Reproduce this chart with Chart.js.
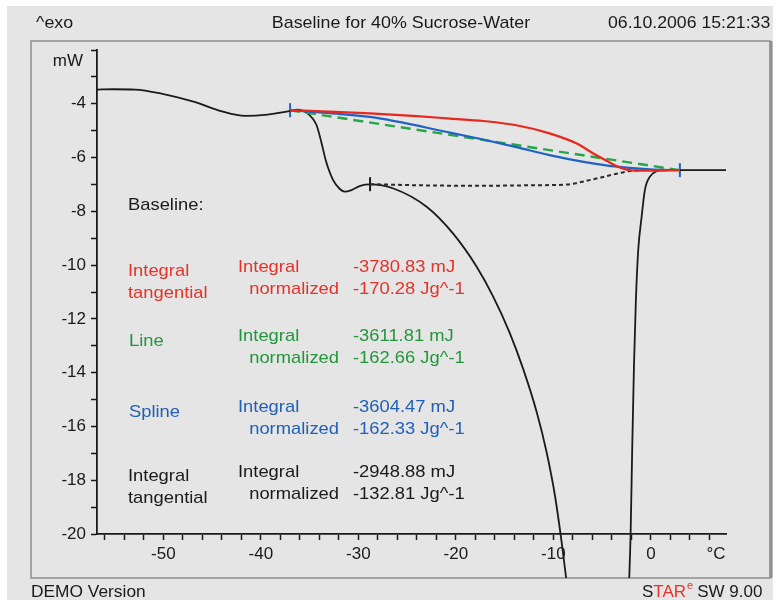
<!DOCTYPE html>
<html>
<head>
<meta charset="utf-8">
<script src="https://cdn.jsdelivr.net/npm/chart.js@4.4.1/dist/chart.umd.min.js"></script>
<style>
  html, body { margin: 0; padding: 0; background: #fff; }
  #chart { display: block; }
</style>
</head>
<body>
<canvas id="chart" width="777" height="600"></canvas>
<script>
// measured curve (temperature in °C, heat flow in mW)
const curveTemp = [-56.8, -55, -52.9, -50.2, -46.8, -44.0, -41.6, -39.3, -37.2, -36.3, -35.0, -34.3, -33.8, -33.3, -32.6, -31.9, -31.4, -30.7, -29.8, -28.8, -26.4, -23.0, -20.3, -17.9, -16.2, -14.5, -13.1, -11.7, -10.7, -9.85, -9.1, -8.5, -7.5, -5.5, -3.0, -2.23, -2.08, -1.92, -1.74, -1.54, -1.30, -0.95, -0.62, -0.10, 0.58, 1.26, 7.7];
const curveMW = [-3.47, -3.46, -3.47, -3.62, -3.93, -4.28, -4.45, -4.40, -4.28, -4.22, -4.42, -4.78, -5.42, -6.16, -6.83, -7.17, -7.27, -7.21, -7.05, -7.00, -7.15, -7.83, -8.82, -10.04, -11.15, -12.50, -13.86, -15.48, -16.95, -18.55, -20.45, -22.2, -25.5, -32, -28, -21.7, -19.97, -16.88, -13.78, -11.30, -9.44, -8.20, -7.21, -6.71, -6.51, -6.47, -6.47];

// baselines
const redTemp = [-37.0, -33, -28.8, -24, -20.6, -17.2, -13.8, -10.4, -7.6, -5.9, -4.5, -3.5, -2.5, -1.5, -0.1, 2.97];
const redMW = [-4.24, -4.29, -4.36, -4.46, -4.55, -4.64, -4.80, -5.10, -5.48, -5.85, -6.13, -6.32, -6.45, -6.49, -6.49, -6.47];

const greenTemp = [-37.0, 2.97];
const greenMW = [-4.24, -6.47];

const blueTemp = [-37.0, -33, -28.8, -20.6, -17.2, -13.8, -10.4, -6.9, -3.5, -0.1, 2.97];
const blueMW = [-4.24, -4.35, -4.49, -5.07, -5.33, -5.61, -5.91, -6.16, -6.34, -6.44, -6.47];

const blackTemp = [-28.8, -24, -18, -12, -8.6, -6.3, -4.2, -2.15, -1.0];
const blackMW = [-6.99, -7.03, -7.05, -7.03, -7.0, -6.84, -6.66, -6.50, -6.47];

// evaluation limits
const blueLimitTemp = [-37.0, 2.97];
const blueLimitMW = [-4.24, -6.47];
const blackLimitTemp = [-28.8];
const blackLimitMW = [-6.99];

const xTickValues = [-56, -54, -52, -50, -48, -46, -44, -42, -40, -38, -36, -34, -32, -30, -28, -26, -24, -22, -20, -18, -16, -14, -12, -10, -8, -6, -4, -2, 0, 2, 4, 6];
const yTickValues = [-20, -19, -18, -17, -16, -15, -14, -13, -12, -11, -10, -9, -8, -7, -6, -5, -4, -3, -2];

const results = [
  { color: "#e5332a", name: ["Integral", "tangential"], integral: "-3780.83 mJ", normalized: "-170.28 Jg^-1" },
  { color: "#23963c", name: ["Line"], integral: "-3611.81 mJ", normalized: "-162.66 Jg^-1" },
  { color: "#2260b8", name: ["Spline"], integral: "-3604.47 mJ", normalized: "-162.33 Jg^-1" },
  { color: "#1a1a1a", name: ["Integral", "tangential"], integral: "-2948.88 mJ", normalized: "-132.81 Jg^-1" }
];

function pts(xs, ys) {
  return xs.map((x, i) => ({ x: x, y: ys[i] }));
}

const FONT = '"Liberation Sans", Arial, Helvetica, sans-serif';

// text with a slight horizontal stretch, like the scanned original
function text(ctx, s, x, y, align, color, sx) {
  ctx.save();
  ctx.font = "17px " + FONT;
  ctx.fillStyle = color || "#1a1a1a";
  ctx.textAlign = align || "left";
  ctx.textBaseline = "middle";
  ctx.translate(x, y);
  ctx.scale(sx || 1.08, 1);
  ctx.fillText(s, 0, 0);
  ctx.restore();
}

const framePlugin = {
  id: "frame",
  beforeDraw(chart) {
    const ctx = chart.ctx;
    ctx.save();
    ctx.fillStyle = "#fff";
    ctx.fillRect(0, 0, 777, 600);
    ctx.fillStyle = "#e4e5e4";
    ctx.fillRect(7, 6, 766, 594);
    ctx.strokeStyle = "#8e8f8e";
    ctx.lineWidth = 1.5;
    ctx.strokeRect(31, 41, 739, 537);
    ctx.lineWidth = 3;
    ctx.beginPath();
    ctx.moveTo(771, 41);
    ctx.lineTo(771, 578);
    ctx.stroke();
    ctx.restore();

    text(ctx, "^exo", 36, 23, "left", null, 1.05);
    text(ctx, "Baseline for 40% Sucrose-Water", 401, 23, "center", null, 1.05);
    text(ctx, "06.10.2006 15:21:33", 608, 23, "left", null, 1.04);
    text(ctx, "DEMO Version", 31, 592, "left", null, 1.02);

    // STARe SW 9.00
    ctx.save();
    ctx.font = "17px " + FONT;
    ctx.textBaseline = "middle";
    let x = 642;
    ctx.fillStyle = "#1a1a1a";
    ctx.fillText("S", x, 592);
    x += ctx.measureText("S").width;
    ctx.fillStyle = "#e5332a";
    ctx.fillText("TAR", x, 592);
    x += ctx.measureText("TAR").width;
    ctx.font = "11px " + FONT;
    ctx.fillText("e", x + 1, 586);
    x += ctx.measureText("e").width + 5;
    ctx.font = "17px " + FONT;
    ctx.fillStyle = "#1a1a1a";
    ctx.fillText("SW 9.00", x, 592);
    ctx.restore();
  },
  afterDraw(chart) {
    const ctx = chart.ctx;
    text(ctx, "mW", 83, 61, "right", null, 1);
    text(ctx, "°C", 716, 554, "center", null, 1);

    text(ctx, "Baseline:", 128, 205, "left");
    const rowTop = [267.3, 336.7, 407.3, 472.7];
    results.forEach((r, i) => {
      const y = rowTop[i];
      if (r.name.length === 2) {
        text(ctx, r.name[0], 128, y + 4, "left", r.color);
        text(ctx, r.name[1], 128, y + 26, "left", r.color);
      } else {
        text(ctx, r.name[0], 129, y + 5, "left", r.color);
      }
      text(ctx, "Integral", 238, y, "left", r.color);
      text(ctx, "normalized", 339, y + 22, "right", r.color);
      text(ctx, r.integral, 353, y, "left", r.color);
      text(ctx, r.normalized, 353, y + 22, "left", r.color);
    });
  }
};

const lineClip = { left: 0, top: 0, right: 0, bottom: 44 };

new Chart(document.getElementById("chart"), {
  type: "line",
  data: {
    datasets: [
      {
        data: pts(redTemp, redMW),
        borderColor: "#e8271f",
        borderWidth: 2.2,
        pointRadius: 0,
        cubicInterpolationMode: "monotone"
      },
      {
        data: pts(blueTemp, blueMW),
        borderColor: "#2163c4",
        borderWidth: 2.2,
        pointRadius: 0,
        cubicInterpolationMode: "monotone"
      },
      {
        data: pts(greenTemp, greenMW),
        borderColor: "#27a646",
        borderWidth: 2.4,
        borderDash: [10, 6],
        pointRadius: 0
      },
      {
        data: pts(blackTemp, blackMW),
        borderColor: "#2a2a2a",
        borderWidth: 2,
        borderDash: [4, 3],
        pointRadius: 0,
        cubicInterpolationMode: "monotone"
      },
      {
        data: pts(curveTemp, curveMW),
        borderColor: "#1a1a1a",
        borderWidth: 1.8,
        pointRadius: 0,
        cubicInterpolationMode: "monotone",
        clip: lineClip
      },
      {
        data: pts(blueLimitTemp, blueLimitMW),
        showLine: false,
        pointStyle: "line",
        rotation: 90,
        pointRadius: 7,
        pointBorderWidth: 2,
        pointBorderColor: "#2163c4"
      },
      {
        data: pts(blackLimitTemp, blackLimitMW),
        showLine: false,
        pointStyle: "line",
        rotation: 90,
        pointRadius: 7,
        pointBorderWidth: 2,
        pointBorderColor: "#1a1a1a"
      }
    ]
  },
  options: {
    responsive: false,
    animation: false,
    devicePixelRatio: 1,
    layout: { padding: { left: 0, top: 50, right: 51, bottom: 26 } },
    plugins: { legend: { display: false }, tooltip: { enabled: false } },
    scales: {
      x: {
        type: "linear",
        min: -56.8,
        max: 7.7,
        afterBuildTicks: (scale) => { scale.ticks = xTickValues.map(v => ({ value: v })); },
        afterFit: (scale) => { scale.height = 40; },
        border: { color: "#1a1a1a", width: 1.8 },
        grid: { drawOnChartArea: false, tickLength: 6, tickColor: "#1a1a1a", tickWidth: 1.5 },
        ticks: {
          autoSkip: false,
          maxRotation: 0,
          padding: 4,
          color: "#1a1a1a",
          font: { family: FONT, size: 17 },
          callback: (v) => (v % 10 === 0 ? String(v) : "")
        }
      },
      y: {
        min: -20,
        max: -2,
        afterBuildTicks: (scale) => { scale.ticks = yTickValues.map(v => ({ value: v })); },
        afterFit: (scale) => { scale.width = 97; },
        border: { color: "#1a1a1a", width: 1.8 },
        grid: { drawOnChartArea: false, tickLength: 6, tickColor: "#1a1a1a", tickWidth: 1.5 },
        ticks: {
          autoSkip: false,
          padding: 5,
          color: "#1a1a1a",
          font: { family: FONT, size: 17 },
          callback: (v) => (v % 2 === 0 && v !== -2 ? String(v) : "")
        }
      }
    }
  },
  plugins: [framePlugin]
});
</script>
</body>
</html>
